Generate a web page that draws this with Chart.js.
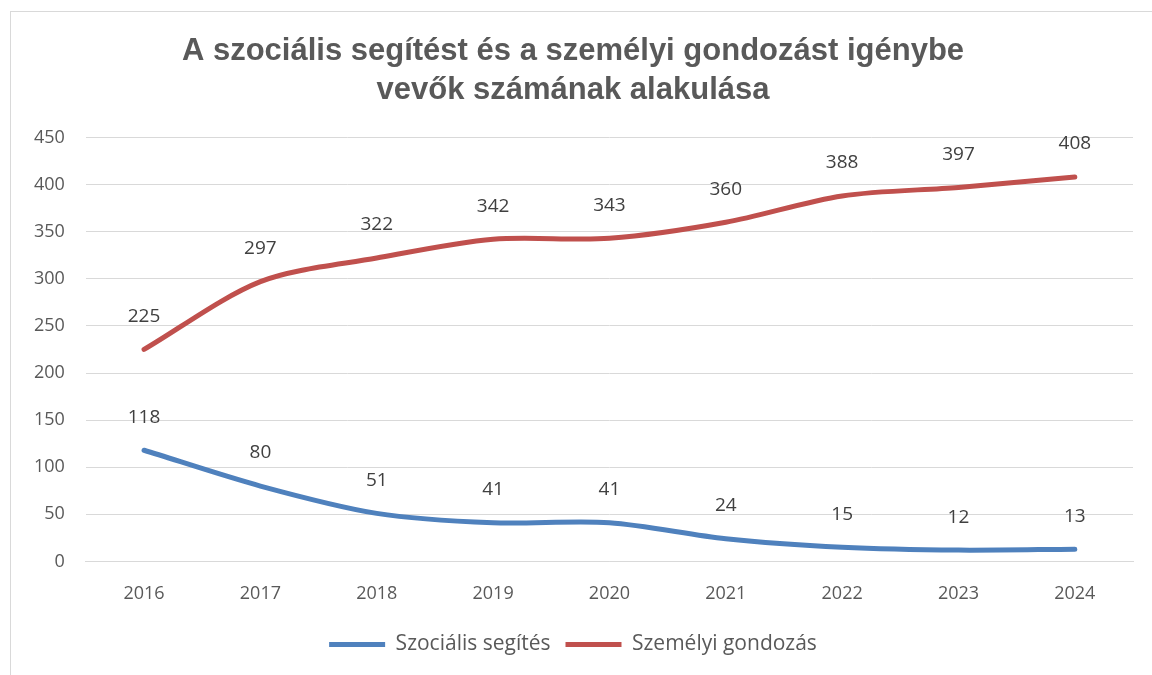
<!DOCTYPE html>
<html>
<head>
  <title>Szociális segítés és személyi gondozás</title>
  <script src="https://cdn.jsdelivr.net/npm/chart.js"></script>
  <style>
    html, body { margin: 0; padding: 0; background: #fff; }
    .frame {
      position: absolute; left: 10px; top: 11px; width: 1142px; height: 664px;
      border-left: 1px solid #d9d9d9; border-top: 1px solid #d9d9d9;
    }
    .wrap { position: absolute; left: 0; top: 0; width: 1152px; height: 675px; }
  </style>
</head>
<body>
  <div class="frame"></div>
  <div class="wrap"><canvas id="chart"></canvas></div>

  <script>
    const years = ["2016", "2017", "2018", "2019", "2020", "2021", "2022", "2023", "2024"];
    const szocialisSegites = [118, 80, 51, 41, 41, 24, 15, 12, 13];
    const szemelyiGondozas = [225, 297, 322, 342, 343, 360, 388, 397, 408];
    const yTicks = [0, 50, 100, 150, 200, 250, 300, 350, 400, 450];

    // values written above each point, like Excel data labels
    const pointLabels = {
      id: 'pointLabels',
      afterDatasetsDraw(chart) {
        const ctx = chart.ctx;
        ctx.save();
        ctx.font = '19px "Open Sans", sans-serif';
        ctx.fillStyle = '#404040';
        ctx.textAlign = 'center';
        ctx.textBaseline = 'middle';
        chart.data.datasets.forEach((ds, i) => {
          chart.getDatasetMeta(i).data.forEach((pt, j) => {
            ctx.fillText(ds.data[j], pt.x, pt.y - 33);
          });
        });
        ctx.restore();
      }
    };

    new Chart(document.getElementById("chart"), {
      type: 'line',
      data: {
        labels: years,
        datasets: [
          {
            label: 'Szociális segítés',
            data: szocialisSegites,
            borderColor: '#4F81BD',
            backgroundColor: '#4F81BD',
            borderWidth: 5,
            pointRadius: 0,
            tension: 0.3,
            borderCapStyle: 'round'
          },
          {
            label: 'Személyi gondozás',
            data: szemelyiGondozas,
            borderColor: '#C0504D',
            backgroundColor: '#C0504D',
            borderWidth: 5,
            pointRadius: 0,
            tension: 0.3,
            borderCapStyle: 'round'
          }
        ]
      },
      options: {
        responsive: true,
        maintainAspectRatio: false,
        animation: false,
        layout: { padding: { left: 13, right: 19, top: 20, bottom: 10 } },
        plugins: {
          title: {
            display: true,
            text: ['A szociális segítést és a személyi gondozást igénybe', 'vevők számának alakulása'],
            font: { family: '"Liberation Sans", Arial, sans-serif', size: 31, weight: 'bold', lineHeight: 1.25 },
            color: '#595959',
            padding: { top: 12, bottom: 28 }
          },
          legend: {
            position: 'bottom',
            labels: {
              usePointStyle: true,
              pointStyle: 'line',
              pointStyleWidth: 56,
              boxHeight: 5,
              color: '#595959',
              font: { family: '"Open Sans", sans-serif', size: 21 },
              padding: 15
            }
          },
          tooltip: { enabled: false }
        },
        scales: {
          x: {
            offset: true,
            grid: { display: false },
            border: { color: '#d9d9d9' },
            ticks: { color: '#595959', font: { family: '"Open Sans", sans-serif', size: 18 }, padding: 14 }
          },
          y: {
            min: 0,
            max: 450,
            afterBuildTicks: axis => { axis.ticks = yTicks.map(v => ({ value: v })); },
            grid: { color: '#d9d9d9', drawTicks: false },
            border: { display: false },
            ticks: { color: '#595959', font: { family: '"Open Sans", sans-serif', size: 18 }, padding: 21 }
          }
        }
      },
      plugins: [pointLabels]
    });
  </script>
</body>
</html>
